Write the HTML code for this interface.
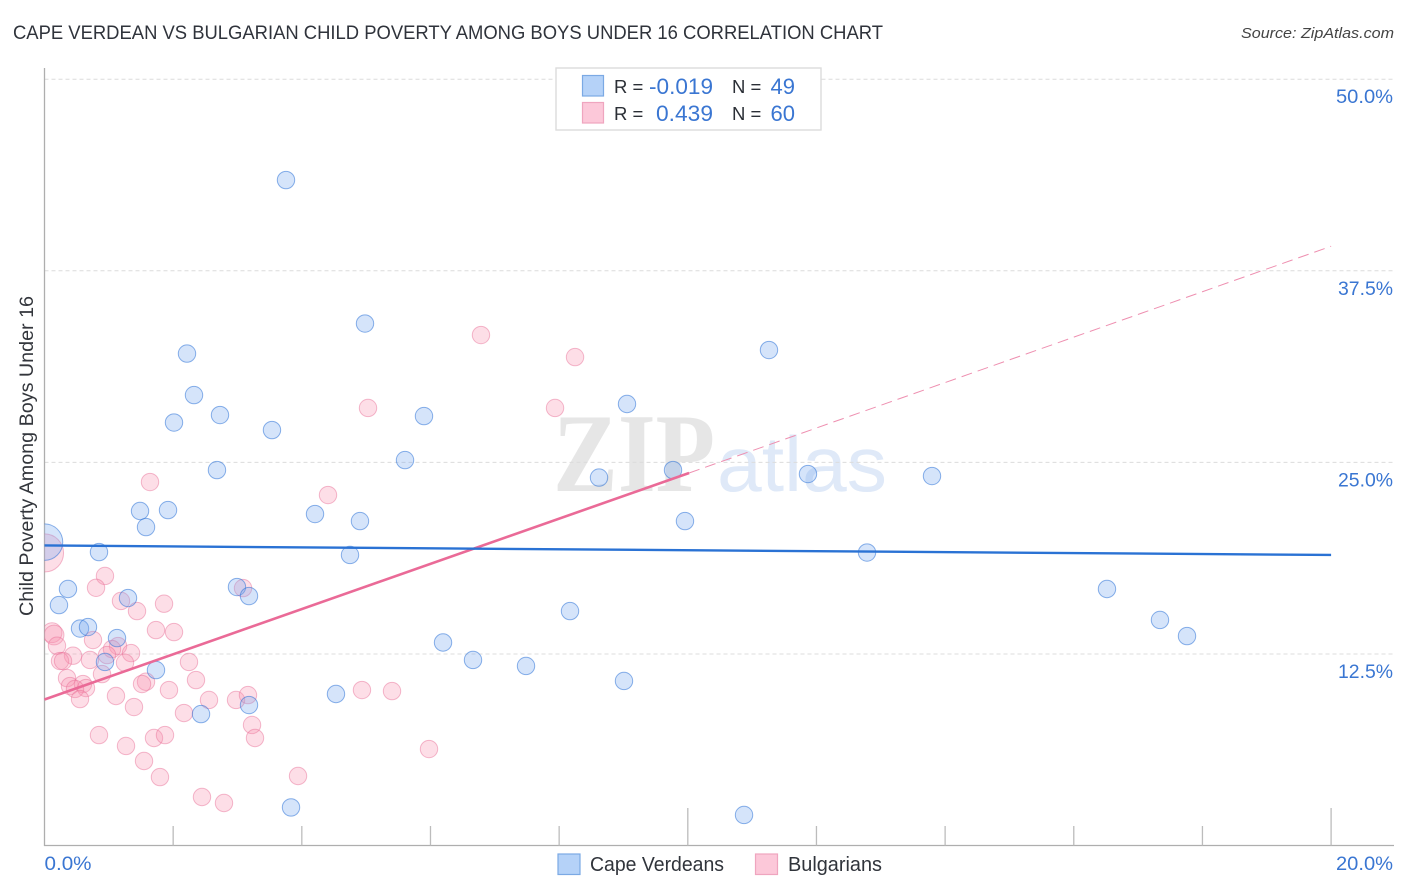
<!DOCTYPE html>
<html lang="en">
<head>
<meta charset="utf-8">
<title>Cape Verdean vs Bulgarian Child Poverty Among Boys Under 16 Correlation Chart</title>
<style>
html,body{margin:0;padding:0;background:#fff;width:1406px;height:892px;overflow:hidden}
svg{display:block;font-family:"Liberation Sans",sans-serif}
</style>
</head>
<body>
<svg id="chart" width="1406" height="892" viewBox="0 0 1406 892" xmlns="http://www.w3.org/2000/svg">
  <defs>
    <clipPath id="plot-clip"><rect x="44.5" y="60" width="1350" height="786"/></clipPath>
  </defs>
  <rect x="0" y="0" width="1406" height="892" fill="#ffffff"/>
  <text x="13" y="39" font-size="19" fill="#2f333b" textLength="870" lengthAdjust="spacingAndGlyphs">CAPE VERDEAN VS BULGARIAN CHILD POVERTY AMONG BOYS UNDER 16 CORRELATION CHART</text>
  <text x="1394" y="38" font-size="15" font-style="italic" fill="#444" text-anchor="end" textLength="153" lengthAdjust="spacingAndGlyphs">Source: ZipAtlas.com</text>
  <g id="watermark">
    <text x="553" y="491" style="font-family:'Liberation Serif',serif;font-weight:bold" font-size="112" fill="#e6e6e6" textLength="162" lengthAdjust="spacingAndGlyphs">ZIP</text>
    <text x="717" y="491" style="font-family:'Liberation Sans',sans-serif" font-size="78" fill="#dfe9f8" textLength="170" lengthAdjust="spacingAndGlyphs">atlas</text>
  </g>
  <g id="grid"></g>
  <g id="axes"></g>
  <g id="bulgarian-points" clip-path="url(#plot-clip)"></g>
  <g id="cape-points" clip-path="url(#plot-clip)"></g>
  <g id="trends"></g>
  <text transform="translate(33,456) rotate(-90)" font-size="19" fill="#33363c" text-anchor="middle" textLength="320" lengthAdjust="spacingAndGlyphs">Child Poverty Among Boys Under 16</text>
  <g>
    <rect x="556" y="68" width="265" height="62" fill="#fff" stroke="#dcdcdc" stroke-width="1.4"/>
    <rect x="582.5" y="75.5" width="21" height="20.5" fill="#b5d2f8" stroke="#7ba9e4" stroke-width="1.2"/>
    <rect x="582.5" y="102.5" width="21" height="20.5" fill="#fcc8d9" stroke="#efa5bf" stroke-width="1.2"/>
    <text x="614" y="93" font-size="18.5" fill="#2b2f36">R =</text>
    <text x="713" y="94" font-size="22" fill="#3a76d2" text-anchor="end" textLength="64" lengthAdjust="spacingAndGlyphs">-0.019</text>
    <text x="732" y="93" font-size="18.5" fill="#2b2f36">N =</text>
    <text x="795" y="94" font-size="22" fill="#3a76d2" text-anchor="end">49</text>
    <text x="614" y="120" font-size="18.5" fill="#2b2f36">R =</text>
    <text x="713" y="121" font-size="22" fill="#3a76d2" text-anchor="end" textLength="57" lengthAdjust="spacingAndGlyphs">0.439</text>
    <text x="732" y="120" font-size="18.5" fill="#2b2f36">N =</text>
    <text x="795" y="121" font-size="22" fill="#3a76d2" text-anchor="end">60</text>
  </g>
  <g>
    <rect x="558" y="854" width="22" height="20.5" fill="#b5d2f8" stroke="#7ba9e4" stroke-width="1.2"/>
    <text x="590" y="871" font-size="20" fill="#30343b" textLength="134" lengthAdjust="spacingAndGlyphs">Cape Verdeans</text>
    <rect x="755.500" y="854" width="22" height="20.5" fill="#fcc8d9" stroke="#efa5bf" stroke-width="1.2"/>
    <text x="788" y="871" font-size="20" fill="#30343b" textLength="94" lengthAdjust="spacingAndGlyphs">Bulgarians</text>
  </g>
</svg>
<script>
// ---- chart data (percent values) ----
const yTickValues = [12.5, 25, 37.5, 50];
const yTickLabels = ["12.5%", "25.0%", "37.5%", "50.0%"];
const xTickValues = [0, 2, 4, 6, 8, 10, 12, 14, 16, 18, 20];
const xTickMajor = [false, false, false, false, false, true, false, false, false, false, true];
const xEndValues = [0, 20];
const xEndLabels = ["0.0%", "20.0%"];

const capeX = [3.754,4.982,2.215,11.262,2.324,2.728,2.013,3.536,5.899,9.055,5.604,2.681,8.620,9.770,11.868,13.796,1.485,1.920,1.578,4.205,4.904,9.956,0.847,4.749,12.786,0,0.365,0.225,1.298,2.992,3.179,16.516,8.169,17.340,17.760,0.552,0.676,1.127,0.940,1.733,6.195,6.661,7.485,9.008,4.531,3.179,2.433,3.832,10.874];
const capeY = [43.42,34.06,32.10,32.33,29.39,28.09,27.60,27.11,28.02,28.81,25.15,24.50,24.01,24.50,24.24,24.11,21.83,21.89,20.78,21.63,21.17,21.17,19.15,18.96,19.12,19.80,16.74,15.69,16.15,16.87,16.28,16.74,15.30,14.72,13.67,14.16,14.26,13.54,11.98,11.45,13.25,12.11,11.72,10.74,9.89,9.17,8.58,2.49,2.00];
const capeWeight = [1,1,1,1,1,1,1,1,1,1,1,1,1,1,1,1,1,1,1,1,1,1,1,1,1,4.4,1,1,1,1,1,1,1,1,1,1,1,1,1,1,1,1,1,1,1,1,1,1,1];

const bulgarianX = [0.940,0.801,1.189,1.438,1.858,1.733,2.013,0.754,0.117,0.148,0.194,0.443,0.707,0.241,0.288,1.143,1.049,0.972,1.345,1.251,0.894,2.246,2.355,0.350,0.396,0.598,0.645,0.474,0.552,1.578,1.516,1.935,1.111,1.391,2.168,2.557,2.977,3.163,3.226,3.272,0.847,1.267,1.702,1.873,1.547,1.795,2.448,2.790,3.941,3.086,6.785,8.247,5.029,7.936,4.407,1.640,0,4.935,5.402,5.977];
const bulgarianY = [17.59,16.82,15.96,15.30,15.78,14.06,13.93,13.41,13.89,13.74,13.04,12.39,12.11,12.04,12.04,13.02,12.82,12.43,12.56,11.93,11.19,11.98,10.80,10.93,10.41,10.54,10.28,10.22,9.56,10.69,10.54,10.15,9.76,9.04,8.65,9.50,9.50,9.82,7.87,7.02,7.21,6.50,7.02,7.21,5.52,4.47,3.17,2.78,4.54,16.80,33.31,31.87,28.55,28.55,22.87,23.72,19.09,10.15,10.08,6.30];
const bulgarianWeight = [1,1,1,1,1,1,1,1,1.3,1.3,1,1,1,1,1,1,1,1,1,1,1,1,1,1,1,1,1,1,1,1,1,1,1,1,1,1,1,1,1,1,1,1,1,1,1,1,1,1,1,1,1,1,1,1,1,1,4.8,1,1,1];

const capeTrendX = [0, 20];
const capeTrendY = [19.58, 18.96];
const bulgarianTrendX = [0, 10.02];
const bulgarianTrendY = [9.53, 24.31];
const bulgarianProjectionX = [10.02, 20];
const bulgarianProjectionY = [24.31, 39.1];

// ---- axis functions ----
function xScale(v) { return 44.5 + v * 64.33; }
function yScale(v) { return 845.6 - v * 15.328; }
function rScale(w) { return 8.7 * Math.sqrt(w); }

const NS = "http://www.w3.org/2000/svg";
function make(parent, tag, attrs, text) {
  const el = document.createElementNS(NS, tag);
  for (const k in attrs) el.setAttribute(k, attrs[k]);
  if (text !== undefined) el.textContent = text;
  parent.appendChild(el);
  return el;
}

const gridG = document.getElementById("grid");
const axesG = document.getElementById("axes");

// gridlines and y tick labels
yTickValues.forEach(function (v, i) {
  const line = make(gridG, "line", {x1: 44.5, x2: 1394, y1: yScale(v), y2: yScale(v), stroke: "#dcdcdc", "stroke-width": 1, "stroke-dasharray": "4 3"});
  
  
  const label = make(axesG, "text", {x: 1393, y: yScale(v) + 24, "font-size": 19, fill: "#3a76d2", "text-anchor": "end", textLength: yTickLabels[i] === "50.0%" ? 57 : 55, lengthAdjust: "spacingAndGlyphs"}, yTickLabels[i]);
  
  
});

// axis lines
const yAxisLine = make(axesG, "line", {x1: 44.5, x2: 44.5, y1: 68, y2: 846, stroke: "#aeaeae", "stroke-width": 1.3});


const xAxisLine = make(axesG, "line", {x1: 44, x2: 1394, y1: 845.5, y2: 845.5, stroke: "#aeaeae", "stroke-width": 1.3});



// x ticks
xTickValues.forEach(function (v, i) {
  if (v === 0) return;
  const tick = make(axesG, "line", {x1: xScale(v), x2: xScale(v), y1: xTickMajor[i] ? 808 : 826, y2: 845.5, stroke: "#bcbcbc", "stroke-width": 1.3});
  
  
});
xEndValues.forEach(function (v, i) {
  const label = make(axesG, "text", {x: i === 0 ? xScale(v) : 1393, y: 870, "font-size": 19, fill: "#3a76d2", "text-anchor": i === 0 ? "start" : "end", textLength: i === 0 ? 47 : 57, lengthAdjust: "spacingAndGlyphs"}, xEndLabels[i]);
  
  
});

// scatter points
const bulgarianG = document.getElementById("bulgarian-points");
bulgarianX.forEach(function (v, i) {
  const c = make(bulgarianG, "circle", {cx: xScale(v), cy: yScale(bulgarianY[i]), r: rScale(bulgarianWeight[i]), fill: "rgba(247,145,175,0.30)", stroke: "rgba(232,110,150,0.48)", "stroke-width": 1});
  
  
});
const capeG = document.getElementById("cape-points");
capeX.forEach(function (v, i) {
  const c = make(capeG, "circle", {cx: xScale(v), cy: yScale(capeY[i]), r: rScale(capeWeight[i]), fill: "rgba(125,170,240,0.32)", stroke: "rgba(45,115,215,0.55)", "stroke-width": 1});
  
  
});

// trend lines
const trendG = document.getElementById("trends");
const projection = make(trendG, "line", {x1: xScale(bulgarianProjectionX[0]), y1: yScale(bulgarianProjectionY[0]), x2: xScale(bulgarianProjectionX[1]), y2: yScale(bulgarianProjectionY[1]), stroke: "#ee8fb0", "stroke-width": 1, "stroke-dasharray": "11 6"});


const bulgarianTrend = make(trendG, "line", {x1: xScale(bulgarianTrendX[0]), y1: yScale(bulgarianTrendY[0]), x2: xScale(bulgarianTrendX[1]), y2: yScale(bulgarianTrendY[1]), stroke: "#ea6a97", "stroke-width": 2.6});


const capeTrend = make(trendG, "line", {x1: xScale(capeTrendX[0]), y1: yScale(capeTrendY[0]), x2: xScale(capeTrendX[1]), y2: yScale(capeTrendY[1]), stroke: "#2a72d4", "stroke-width": 2.4});


</script>
</body>
</html>
